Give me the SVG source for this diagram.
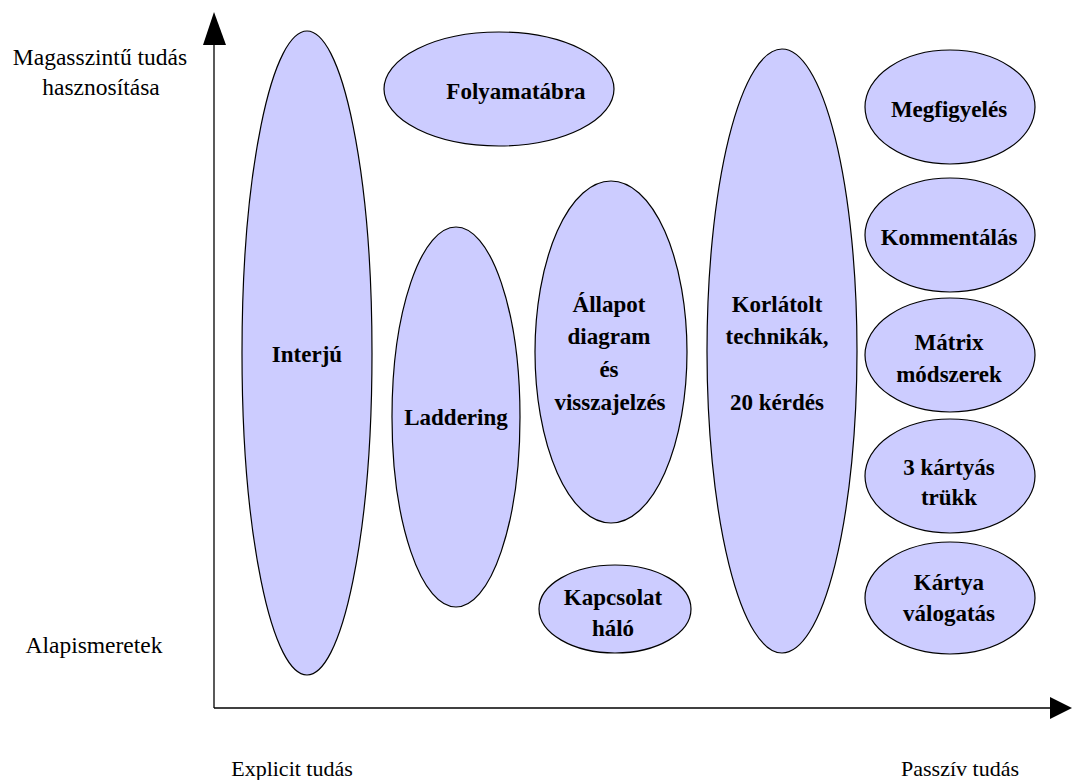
<svg xmlns="http://www.w3.org/2000/svg" width="1072" height="780" viewBox="0 0 1072 780">
  <style>
    .node ellipse { fill: #ccccff; stroke: #000000; stroke-width: 1.2; }
    .node text { font-family: "Liberation Serif", "Times New Roman", serif; font-weight: bold; font-size: 23px; fill: #000000; text-anchor: middle; }
    .axis-label { font-family: "Liberation Serif", "Times New Roman", serif; font-size: 22px; fill: #000000; text-anchor: middle; }
    .axis-label.side { font-size: 23.5px; }
    .axis line { stroke: #000000; stroke-width: 1.3; }
    .axis polygon { fill: #000000; }
  </style>
  <rect width="1072" height="780" fill="#ffffff"/>

  <!-- axes -->
  <g id="connectors" class="axis">
    <line x1="214" y1="708" x2="214" y2="44"/>
    <polygon points="214,12 203,45 226,45"/>
    <line x1="214" y1="708" x2="1051" y2="708"/>
    <polygon points="1050,697 1072,708 1050,719"/>
  </g>

  <!-- axis labels -->
  <g id="axis-labels">
    <text class="axis-label side" x="100" y="65">Magasszintű tudás</text>
    <text class="axis-label side" x="101" y="95">hasznosítása</text>
    <text class="axis-label side" x="94" y="653">Alapismeretek</text>
    <text class="axis-label" x="292" y="776">Explicit tudás</text>
    <text class="axis-label" x="960" y="776">Passzív tudás</text>
  </g>

  <g id="interju" class="node">
    <ellipse cx="307" cy="353" rx="65" ry="322"/>
    <text x="307" y="362">Interjú</text>
  </g>

  <g id="folyamatabra" class="node">
    <ellipse cx="499" cy="89" rx="115" ry="57"/>
    <text x="516" y="99">Folyamatábra</text>
  </g>

  <g id="laddering" class="node">
    <ellipse cx="456" cy="417" rx="64" ry="190"/>
    <text x="456" y="425">Laddering</text>
  </g>

  <g id="allapot" class="node">
    <ellipse cx="611" cy="352" rx="76" ry="171"/>
    <text x="609" y="312">Állapot</text>
    <text x="609" y="344">diagram</text>
    <text x="609" y="377">és</text>
    <text x="610" y="410">visszajelzés</text>
  </g>

  <g id="kapcsolat" class="node">
    <ellipse cx="615" cy="609" rx="76" ry="44"/>
    <text x="613" y="605">Kapcsolat</text>
    <text x="613" y="636">háló</text>
  </g>

  <g id="korlatolt" class="node">
    <ellipse cx="782" cy="351" rx="75" ry="302"/>
    <text x="777" y="312">Korlátolt</text>
    <text x="777" y="344">technikák,</text>
    <text x="777" y="410">20 kérdés</text>
  </g>

  <g id="megfigyeles" class="node">
    <ellipse cx="950" cy="107" rx="85" ry="57"/>
    <text x="949" y="117">Megfigyelés</text>
  </g>

  <g id="kommentalas" class="node">
    <ellipse cx="950" cy="235" rx="85" ry="57"/>
    <text x="949" y="245">Kommentálás</text>
  </g>

  <g id="matrix" class="node">
    <ellipse cx="950" cy="355" rx="85" ry="57"/>
    <text x="949" y="350">Mátrix</text>
    <text x="949" y="382">módszerek</text>
  </g>

  <g id="harom-kartyas" class="node">
    <ellipse cx="950" cy="476" rx="85" ry="57"/>
    <text x="949" y="475">3 kártyás</text>
    <text x="949" y="505">trükk</text>
  </g>

  <g id="kartya-valogatas" class="node">
    <ellipse cx="950" cy="598" rx="85" ry="56"/>
    <text x="949" y="590">Kártya</text>
    <text x="949" y="621">válogatás</text>
  </g>
</svg>
